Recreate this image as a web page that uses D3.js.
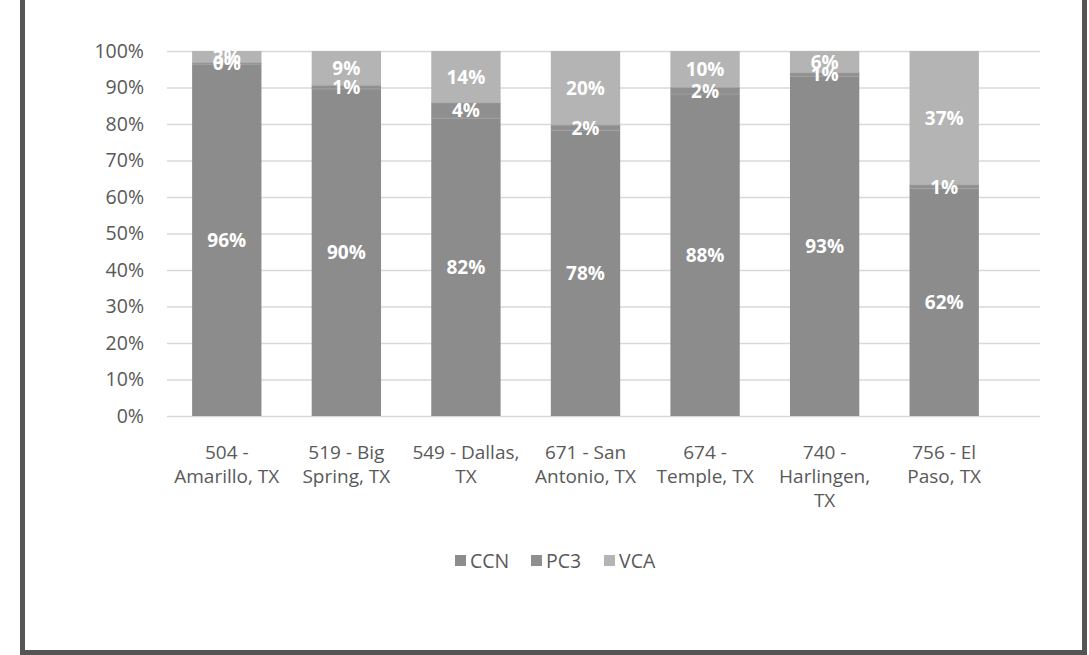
<!DOCTYPE html>
<html>
<head>
<meta charset="utf-8">
<script src="https://cdn.jsdelivr.net/npm/d3@7"></script>
<style>
  html, body { margin: 0; padding: 0; background: #ffffff; }
  svg { display: block; }
  text { font-family: "Open Sans", "Noto Sans", sans-serif; }
</style>
</head>
<body>
<svg id="chart" width="1089" height="655"></svg>
<script>
const categories = [
  "504 -\nAmarillo, TX",
  "519 - Big\nSpring, TX",
  "549 - Dallas,\nTX",
  "671 - San\nAntonio, TX",
  "674 -\nTemple, TX",
  "740 -\nHarlingen,\nTX",
  "756 - El\nPaso, TX"
];
const seriesNames = ["CCN", "PC3", "VCA"];
const ccn = [96.4, 89.6, 81.6, 78.2, 88.2, 93.1, 62.3];
const pc3 = [0.4, 1.0, 4.2, 1.5, 1.8, 0.9, 1.0];
const vca = [3.2, 9.4, 14.2, 20.3, 10.0, 6.0, 36.7];
const ccnLabels = ["96%", "90%", "82%", "78%", "88%", "93%", "62%"];
const pc3Labels = ["0%", "1%", "4%", "2%", "2%", "1%", "1%"];
const vcaLabels = ["3%", "9%", "14%", "20%", "10%", "6%", "37%"];
const yTicks = [0, 10, 20, 30, 40, 50, 60, 70, 80, 90, 100];

const colors = { CCN: "#8c8c8c", PC3: "#8f8f8f", VCA: "#b4b4b4" };

const svg = d3.select("#chart");

// outer frame
svg.append("rect")
  .attr("x", 22.5).attr("y", -10)
  .attr("width", 1062).attr("height", 662.5)
  .attr("fill", "#ffffff")
  .attr("stroke", "#555555").attr("stroke-width", 5);

const plot = { left: 167, right: 1040, top: 51, bottom: 416 };

const x = d3.scaleBand()
  .domain(categories)
  .range([plot.left, 1004])
  .paddingInner(0.42)
  .paddingOuter(0.21);

const y = d3.scaleLinear().domain([0, 100]).range([plot.bottom, plot.top]);

// gridlines
const yAxis = d3.axisLeft(y)
  .tickValues(yTicks)
  .tickSize(-(plot.right - plot.left))
  .tickFormat(d => d + "%");
const gy = svg.append("g")
  .attr("transform", `translate(${plot.left},0)`)
  .call(yAxis);
gy.select(".domain").remove();
gy.selectAll(".tick line").attr("stroke", "#d9d9d9").attr("stroke-width", 1.3);
gy.selectAll(".tick text")
  .attr("x", -23)
  .attr("fill", "#595959")
  .style("font-size", "19.5px")
  .style("font-family", "'Open Sans', sans-serif");

// stacked data
const rows = categories.map((c, i) => ({ cat: c, CCN: ccn[i], PC3: pc3[i], VCA: vca[i], i }));
const stack = d3.stack().keys(seriesNames);
const layers = stack(rows);
const labelSets = { CCN: ccnLabels, PC3: pc3Labels, VCA: vcaLabels };

layers.forEach(layer => {
  svg.append("g").selectAll("rect")
    .data(layer)
    .join("rect")
    .attr("x", d => x(d.data.cat))
    .attr("width", x.bandwidth())
    .attr("y", d => y(d[1]))
    .attr("height", d => y(d[0]) - y(d[1]))
    .attr("fill", colors[layer.key]);
});

// thin separators between segments
layers.slice(0, 2).forEach(layer => {
  svg.append("g").selectAll("line")
    .data(layer)
    .join("line")
    .attr("x1", d => x(d.data.cat))
    .attr("x2", d => x(d.data.cat) + x.bandwidth())
    .attr("y1", d => y(d[1]))
    .attr("y2", d => y(d[1]))
    .attr("stroke", "#a3a3a3").attr("stroke-width", 0.8);
});

// data labels
layers.forEach(layer => {
  svg.append("g").selectAll("text")
    .data(layer)
    .join("text")
    .attr("x", d => x(d.data.cat) + x.bandwidth() / 2)
    .attr("y", d => (y(d[0]) + y(d[1])) / 2)
    .attr("dy", "0.36em")
    .attr("text-anchor", "middle")
    .attr("fill", "#ffffff")
    .style("font-size", "19px")
    .style("font-weight", "bold")
    .text(d => labelSets[layer.key][d.data.i]);
});

// x axis labels
const xl = svg.append("g");
categories.forEach(c => {
  const lines = c.split("\n");
  const t = xl.append("text")
    .attr("x", x(c) + x.bandwidth() / 2)
    .attr("y", 459)
    .attr("text-anchor", "middle")
    .attr("fill", "#595959")
    .style("font-size", "19px");
  lines.forEach((ln, k) => {
    t.append("tspan")
      .attr("x", x(c) + x.bandwidth() / 2)
      .attr("y", 459 + k * 24)
      .text(ln);
  });
});

// legend
const legendX = [455, 531, 604];
const lg = svg.append("g");
seriesNames.forEach((s, k) => {
  lg.append("rect")
    .attr("x", legendX[k]).attr("y", 555)
    .attr("width", 11).attr("height", 11)
    .attr("fill", colors[s]);
  lg.append("text")
    .attr("x", legendX[k] + 15).attr("y", 567.5)
    .attr("fill", "#595959")
    .style("font-size", "19.5px")
    .text(s);
});
</script>
</body>
</html>
